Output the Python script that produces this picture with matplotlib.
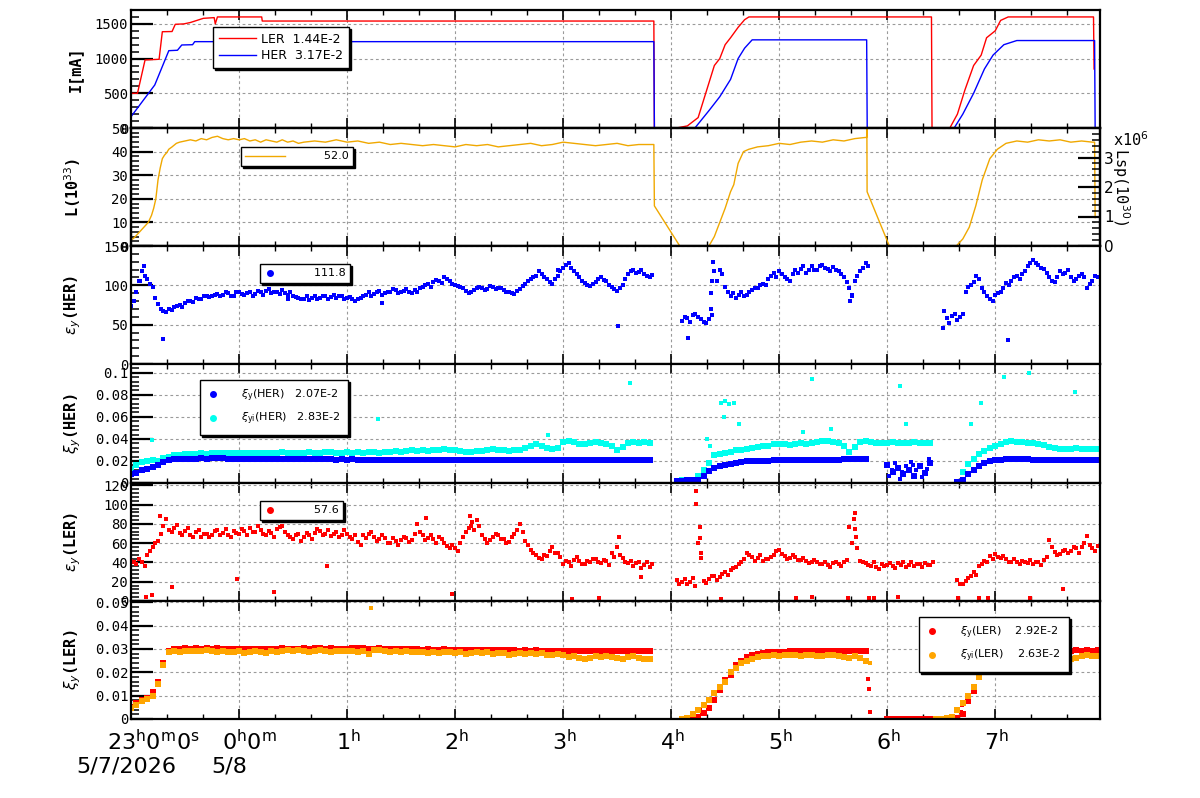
import numpy as np
import matplotlib
matplotlib.use('Agg')
import matplotlib.pyplot as plt
from matplotlib.lines import Line2D
from matplotlib.ticker import MultipleLocator, FixedLocator, FuncFormatter
import matplotlib.transforms as mtransforms

nan = np.nan

# ---------------- data (time in hours relative to 0:00 on 5/8) ----------------
t_grid = np.round(-1.0 + 0.05 * np.arange(180), 3)
t_grid_b = np.round(t_grid + 0.025, 3)

ler_I_t = [-1.00, -0.94, -0.87, -0.74, -0.71, -0.62, -0.59, -0.51, -0.45, -0.33, -0.23, -0.22, -0.20,
           0.21, 0.215, 3.84, 3.845, 4.05, 4.15, 4.25, 4.32, 4.40, 4.45, 4.50, 4.55, 4.62, 4.68, 4.72,
           6.41, 6.415, 6.58, 6.65, 6.72, 6.80, 6.87, 6.92, 7.00, 7.05, 7.12, 7.91, 7.915]
ler_I_v = [500, 500, 980, 990, 1387, 1390, 1494, 1500, 1520, 1580, 1590, 1500, 1600,
           1600, 1541, 1541, 0, 0, 30, 150, 500, 900, 1000, 1200, 1300, 1450, 1560, 1600,
           1600, 0, 0, 200, 550, 900, 1050, 1300, 1400, 1550, 1600, 1600, 850]
her_I_t = [-1.00, -0.78, -0.65, -0.57, -0.53, -0.43, -0.41, 3.84, 3.845, 4.22, 4.35, 4.45, 4.55,
           4.62, 4.68, 4.75, 5.81, 5.815, 6.62, 6.70, 6.80, 6.90, 6.98, 7.08, 7.20, 7.92, 7.925]
her_I_v = [163, 620, 1114, 1120, 1196, 1200, 1244, 1244, 0, 0, 250, 450, 700,
           1000, 1150, 1270, 1270, 0, 0, 200, 500, 850, 1050, 1200, 1260, 1260, 0]

lum_t = [-1.00, -0.97, -0.94, -0.90, -0.87, -0.84, -0.81, -0.79, -0.77, -0.75, -0.73, -0.71, -0.69,
         -0.67, -0.65, -0.62, -0.58, -0.55, -0.50, -0.45, -0.40, -0.35, -0.30, -0.25, -0.20, -0.15,
         -0.10, -0.05, 0.00, 0.05, 0.10, 0.15, 0.20, 0.25, 0.30, 0.35, 0.40, 0.45, 0.50, 0.55, 0.60,
         0.70, 0.80, 0.90, 1.00, 1.10, 1.20, 1.30, 1.40, 1.50, 1.60, 1.70, 1.80, 1.90, 2.00, 2.10,
         2.20, 2.30, 2.40, 2.50, 2.60, 2.70, 2.80, 2.90, 3.00, 3.10, 3.20, 3.30, 3.40, 3.50, 3.60,
         3.70, 3.80, 3.84, 3.845, 4.08, 4.35, 4.40, 4.45, 4.50, 4.55, 4.58, 4.62, 4.67, 4.72, 4.80,
         4.90, 5.00, 5.10, 5.20, 5.30, 5.40, 5.50, 5.60, 5.70, 5.80, 5.81, 5.812, 5.814, 6.02, 6.64,
         6.70, 6.76, 6.82, 6.88, 6.95, 7.02, 7.10, 7.20, 7.30, 7.40, 7.50, 7.60, 7.70, 7.80, 7.90,
         7.92, 7.925]
lum_v = [2.5, 3.5, 5, 7, 8.5, 10, 13, 16, 20, 28, 33, 37, 38.5,
         39.5, 41, 42, 43.5, 44, 44.5, 45, 44.5, 45.5, 45, 46, 46.5, 45.5,
         45, 45.5, 45, 45.5, 44.5, 45, 44, 45, 44.5, 44, 45, 44, 44.5, 43.5, 44,
         44.5, 44, 45, 44, 44.5, 43.5, 44, 43, 43.5, 43, 42.5, 43, 42.5, 42, 43,
         42.5, 43, 42, 42.5, 43, 43.5, 42.5, 43, 44, 43.5, 43, 42.5, 43, 43.5, 42.5,
         43, 43, 43, 17, 0, 0, 4, 10, 16, 23, 26, 35, 40, 41, 42,
         42.5, 43.5, 43, 44, 44.5, 44, 45, 44.5, 45.5, 46, 46, 50, 23, 0, 0,
         3, 8, 17, 28, 37, 41, 43.5, 44.5, 44, 45, 44.5, 45, 44, 44.5, 44,
         44, 12]

# vertical emittance HER, two interleaved readings of the point cloud
eps_her = [74, 92, 118, 108, 98, 76, 68, 70, 72, 75, 78, 80, 84, 83, 87, 86, 89, 88, 90, 87,
           91, 88, 92, 89, 91, 93, 90, 92, 94, 88, 86, 84, 83, 81, 86, 84, 87, 85, 84, 86,
           84, 83, 82, 86, 91, 89, 93, 90, 92, 94, 91, 95, 90, 92, 98, 102, 104, 106, 110, 105,
           101, 98, 93, 91, 96, 97, 95, 98, 96, 94, 92, 89, 95, 102, 108, 112, 115, 108, 102, 112,
           122, 128, 118, 110, 103, 99, 104, 110, 106, 98, 93, 100, 114, 119, 117, 115, 110, nan, nan, nan,
           nan, nan, 55, 58, 62, 60, 54, 57, 118, 120, 98, 86, 84, 91, 88, 94, 97, 102, 108, 116,
           118, 110, 106, 119, 121, 116, 124, 120, 126, 121, 123, 118, 110, 96, 105, 118, 129, nan, nan, nan,
           nan, nan, nan, nan, nan, nan, nan, nan, nan, nan, nan, 58, 61, 56, 63, 98, 104, 108, 92, 83,
           88, 91, 103, 106, 112, 114, 124, 132, 126, 121, 110, 104, 118, 116, 110, 108, 114, 97, 106, 110]
eps_her_b = [80, 105, 112, 102, 84, 70, 66, 69, 74, 73, 80, 79, 82, 86, 85, 88, 87, 91, 86, 92,
             89, 90, 87, 93, 88, 95, 91, 89, 90, 92, 85, 82, 86, 84, 82, 87, 83, 88, 86, 83,
             85, 80, 84, 88, 87, 92, 88, 91, 95, 90, 93, 92, 94, 96, 100, 98, 107, 103, 108, 102,
             99, 96, 90, 94, 98, 94, 99, 95, 97, 92, 90, 93, 99, 105, 110, 118, 110, 104, 108, 118,
             126, 122, 114, 106, 100, 102, 108, 107, 101, 95, 97, 108, 118, 116, 120, 112, 113, nan, nan, nan,
             nan, nan, 60, 53, 64, 57, 52, 62, 105, 115, 92, 90, 88, 87, 92, 96, 101, 100, 112, 110,
             114, 108, 115, 116, 124, 120, 119, 125, 122, 118, 120, 114, 104, 88, 112, 122, 124, nan, nan, nan,
             nan, nan, nan, nan, nan, nan, nan, nan, nan, nan, nan, 52, 64, 60, 92, 100, 112, 96, 86, 80,
             90, 97, 100, 110, 108, 118, 128, 128, 122, 116, 106, 110, 114, 120, 106, 112, 110, 102, 112, 104]
eps_her_out_t = [-0.92, -0.88, -0.70, 3.51, 4.16, 4.37, 4.37, 4.38, 4.39, 6.52, 6.53, 7.12, 5.66, 5.67,
                 2.95, 0.45, 1.32]
eps_her_out_v = [106, 125, 32, 48, 33, 70, 90, 105, 130, 46, 68, 30, 80, 86, 119, 82, 78]

xi_her = [0.0085, 0.0095, 0.0115, 0.0125, 0.0145, 0.0160, 0.0190, 0.0212, 0.0215, 0.0218,
          0.0220, 0.0222, 0.0222, 0.0225, 0.0222, 0.0224, 0.0226, 0.0225, 0.0222, 0.0220,
          0.0220, 0.0218, 0.0220, 0.0219, 0.0218, 0.0217, 0.0218, 0.0216, 0.0217, 0.0216,
          0.0215, 0.0216, 0.0215, 0.0214, 0.0215, 0.0214, 0.0215, 0.0214, 0.0213, 0.0214,
          0.0213, 0.0214, 0.0213, 0.0212, 0.0213, 0.0212, 0.0211, 0.0212, 0.0211, 0.0210,
          0.0211, 0.0210, 0.0209, 0.0208, 0.0207, 0.0206, 0.0207, 0.0206, 0.0207, 0.0206,
          0.0206, 0.0207, 0.0206, 0.0207, 0.0208, 0.0207, 0.0208, 0.0207, 0.0208, 0.0207,
          0.0208, 0.0209, 0.0208, 0.0209, 0.0208, 0.0209, 0.0210, 0.0209, 0.0210, 0.0209,
          0.0209, 0.0210, 0.0209, 0.0208, 0.0209, 0.0208, 0.0209, 0.0208, 0.0208, 0.0207,
          0.0208, 0.0207, 0.0208, 0.0207, 0.0208, 0.0207, 0.0207, nan, nan, nan,
          nan, 0.0015, 0.0020, 0.0025, 0.0025, 0.0030, 0.0060, 0.0110, 0.0140, 0.0155,
          0.0165, 0.0175, 0.0182, 0.0190, 0.0196, 0.0200, 0.0202, 0.0203, 0.0204, 0.0205,
          0.0206, 0.0207, 0.0208, 0.0208, 0.0209, 0.0210, 0.0210, 0.0211, 0.0212, 0.0212,
          0.0213, 0.0213, 0.0214, 0.0214, 0.0215, 0.0215, 0.0216, nan, nan, nan,
          0.0160, 0.0100, 0.0140, 0.0080, 0.0120, 0.0060, 0.0150, 0.0090, 0.0180, nan,
          nan, nan, nan, 0.0005, 0.0030, 0.0080, 0.0120, 0.0155, 0.0185, 0.0200,
          0.0208, 0.0212, 0.0214, 0.0215, 0.0215, 0.0214, 0.0214, 0.0213, 0.0213, 0.0212,
          0.0212, 0.0211, 0.0211, 0.0210, 0.0210, 0.0210, 0.0209, 0.0209, 0.0208, 0.0208]
xi_her_out_t = [6.02, 6.07, 6.12, 6.17, 6.22, 6.27, 6.32, 6.37, 6.39, 6.04, 6.14, 6.24, 6.34]
xi_her_out_v = [0.006, 0.018, 0.004, 0.015, 0.019, 0.012, 0.005, 0.013, 0.022, 0.012, 0.010, 0.016, 0.008]

xii_her = [0.0130, 0.0160, 0.0190, 0.0200, 0.0205, 0.0200, 0.0225, 0.0240, 0.0250, 0.0258,
           0.0262, 0.0265, 0.0262, 0.0268, 0.0265, 0.0270, 0.0268, 0.0272, 0.0270, 0.0268,
           0.0272, 0.0268, 0.0275, 0.0270, 0.0276, 0.0272, 0.0268, 0.0274, 0.0278, 0.0272,
           0.0270, 0.0276, 0.0272, 0.0280, 0.0276, 0.0272, 0.0278, 0.0282, 0.0276, 0.0274,
           0.0278, 0.0274, 0.0280, 0.0276, 0.0282, 0.0278, 0.0276, 0.0284, 0.0280, 0.0286,
           0.0282, 0.0290, 0.0296, 0.0292, 0.0298, 0.0294, 0.0300, 0.0304, 0.0308, 0.0300,
           0.0296, 0.0290, 0.0284, 0.0280, 0.0286, 0.0294, 0.0300, 0.0306, 0.0300, 0.0296,
           0.0292, 0.0298, 0.0304, 0.0320, 0.0340, 0.0356, 0.0340, 0.0320, 0.0305, 0.0320,
           0.0370, 0.0385, 0.0370, 0.0356, 0.0350, 0.0360, 0.0370, 0.0366, 0.0350, 0.0336,
           0.0300, 0.0330, 0.0365, 0.0370, 0.0362, 0.0368, 0.0365, nan, nan, nan,
           nan, 0.0020, 0.0025, 0.0030, 0.0030, 0.0060, 0.0120, 0.0180, 0.0250, 0.0266,
           0.0275, 0.0285, 0.0296, 0.0300, 0.0310, 0.0315, 0.0325, 0.0335, 0.0340, 0.0350,
           0.0356, 0.0350, 0.0345, 0.0356, 0.0360, 0.0356, 0.0365, 0.0375, 0.0385, 0.0378,
           0.0370, 0.0365, 0.0340, 0.0280, 0.0330, 0.0370, 0.0377, 0.0372, 0.0366, 0.0362,
           0.0365, 0.0368, 0.0362, 0.0366, 0.0364, 0.0368, 0.0362, 0.0366, 0.0364, nan,
           nan, nan, nan, 0.0005, 0.0100, 0.0170, 0.0220, 0.0260, 0.0290, 0.0320,
           0.0340, 0.0350, 0.0370, 0.0385, 0.0375, 0.0370, 0.0365, 0.0360, 0.0356, 0.0345,
           0.0330, 0.0318, 0.0310, 0.0305, 0.0310, 0.0315, 0.0310, 0.0305, 0.0308, 0.0305]
xii_her_out_t = [-0.81, 0.30, 0.88, 1.29, 2.86, 3.62, 4.46, 4.50, 4.54, 4.58, 4.49, 4.63, 5.30, 5.22,
                 5.48, 6.12, 6.17, 6.87, 6.78, 7.08, 7.31, 7.74, 4.33, 4.36]
xii_her_out_v = [0.0386, 0.070, 0.0596, 0.058, 0.0437, 0.091, 0.073, 0.074, 0.072, 0.073, 0.0596, 0.0536,
                 0.094, 0.046, 0.049, 0.088, 0.0536, 0.073, 0.0536, 0.096, 0.100, 0.0827, 0.040, 0.034]

# vertical emittance LER, two interleaved readings of the point cloud
eps_ler = [42, 38, 41, 48, 56, 62, 78, 74, 76, 71, 73, 69, 72, 66, 70, 68, 74, 71, 69, 73,
           70, 73, 76, 72, 74, 69, 71, 75, 78, 68, 64, 70, 66, 68, 71, 73, 70, 67, 72, 69,
           70, 64, 61, 68, 70, 66, 64, 65, 60, 62, 63, 65, 63, 80, 68, 65, 64, 66, 60, 55,
           55, 60, 72, 78, 84, 68, 60, 66, 68, 64, 61, 70, 80, 62, 53, 48, 44, 47, 56, 50,
           38, 40, 43, 42, 38, 41, 44, 39, 42, 50, 56, 45, 39, 36, 40, 37, 35, nan, nan, nan,
           nan, 22, 20, 18, 24, 60, 21, 23, 26, 25, 30, 32, 35, 40, 50, 46, 45, 42, 44, 48,
           53, 47, 45, 46, 43, 42, 40, 41, 38, 37, 39, 38, 40, 77, 91, 42, 39, 36, 35, 38,
           37, 36, 39, 40, 37, 36, 38, 39, 37, nan, nan, nan, nan, 22, 18, 24, 30, 36, 42, 47,
           49, 45, 44, 41, 40, 42, 39, 38, 41, 43, 63, 51, 49, 53, 52, 55, 56, 67, 55, 57]
eps_ler_b = [40, 44, 36, 52, 60, 70, 85, 72, 79, 68, 76, 66, 74, 70, 66, 73, 69, 75, 66, 71,
             75, 68, 72, 78, 70, 73, 66, 77, 72, 66, 68, 62, 71, 64, 75, 69, 74, 70, 66, 74,
             66, 68, 58, 65, 72, 62, 68, 60, 65, 58, 66, 61, 70, 72, 63, 68, 60, 64, 57, 58,
             52, 66, 76, 74, 78, 64, 63, 70, 64, 60, 66, 74, 72, 58, 50, 45, 48, 52, 50, 46,
             42, 36, 46, 38, 42, 44, 40, 43, 37, 46, 48, 40, 42, 39, 34, 41, 38, nan, nan, nan,
             nan, 18, 23, 20, 16, 45, 19, 26, 22, 28, 27, 34, 38, 44, 48, 42, 48, 44, 46, 52,
             49, 44, 48, 43, 45, 39, 43, 38, 40, 35, 41, 36, 43, 60, 55, 40, 37, 40, 33, 36,
             39, 34, 37, 35, 40, 38, 35, 37, 40, nan, nan, nan, nan, 18, 21, 26, 27, 38, 40, 44,
             46, 47, 40, 44, 38, 41, 43, 40, 37, 46, 56, 48, 52, 50, 56, 50, 60, 58, 52, 54]
eps_ler_out_t = [-0.86, -0.81, -0.62, -0.02, 0.32, 0.81, 1.97, 3.08, 3.33, 3.72, 4.46, 5.16, 5.30, 5.64,
                 5.83, 5.88, 6.10, 6.66, 6.85, 6.93, 7.32, 7.63, 4.23, 4.23, 4.27, 4.27, 4.28, 5.69,
                 5.70, 5.71, 2.14, 2.16, -0.73, 1.73, 3.52]
eps_ler_out_v = [4, 6, 15, 23, 9, 36, 7, 2.5, 3.5, 25, 2.5, 3.5, 4.5, 3.5,
                 3.5, 3.5, 4.5, 3.5, 3.5, 3.5, 3.5, 12, 114, 101, 77, 65, 50, 85,
                 75, 66, 88, 82, 88, 86, 66]

xi_ler = [0.0050, 0.0070, 0.0080, 0.0090, 0.0115, 0.0160, 0.0240, 0.0290, 0.0298, 0.0300,
          0.0302, 0.0300, 0.0303, 0.0301, 0.0303, 0.0300, 0.0302, 0.0300, 0.0301, 0.0300,
          0.0300, 0.0299, 0.0300, 0.0298, 0.0300, 0.0301, 0.0299, 0.0300, 0.0302, 0.0300,
          0.0301, 0.0300, 0.0302, 0.0301, 0.0303, 0.0302, 0.0300, 0.0302, 0.0301, 0.0300,
          0.0300, 0.0302, 0.0303, 0.0302, 0.0300, 0.0301, 0.0302, 0.0300, 0.0299, 0.0300,
          0.0298, 0.0299, 0.0300, 0.0298, 0.0297, 0.0298, 0.0296, 0.0297, 0.0298, 0.0297,
          0.0296, 0.0297, 0.0296, 0.0295, 0.0296, 0.0295, 0.0296, 0.0294, 0.0295, 0.0294,
          0.0295, 0.0294, 0.0293, 0.0294, 0.0293, 0.0294, 0.0293, 0.0292, 0.0293, 0.0292,
          0.0293, 0.0292, 0.0293, 0.0292, 0.0291, 0.0292, 0.0291, 0.0292, 0.0291, 0.0290,
          0.0291, 0.0290, 0.0291, 0.0290, 0.0290, 0.0291, 0.0290, nan, nan, nan,
          nan, nan, nan, nan, 0.0005, 0.0010, 0.0025, 0.0045, 0.0080, 0.0125,
          0.0165, 0.0190, 0.0230, 0.0250, 0.0265, 0.0275, 0.0280, 0.0283, 0.0285, 0.0286,
          0.0287, 0.0288, 0.0289, 0.0289, 0.0290, 0.0290, 0.0291, 0.0291, 0.0292, 0.0292,
          0.0293, 0.0292, 0.0293, 0.0293, 0.0292, 0.0293, 0.0292, nan, nan, nan,
          0.0001, 0.0001, 0.0001, 0.0001, 0.0001, 0.0001, 0.0001, 0.0001, 0.0001, nan,
          nan, nan, nan, 0.0005, 0.0020, 0.0075, 0.0120, 0.0190, 0.0250, 0.0275,
          0.0290, 0.0295, 0.0294, 0.0296, 0.0295, 0.0294, 0.0295, 0.0294, 0.0293, 0.0294,
          0.0293, 0.0294, 0.0292, 0.0294, 0.0293, 0.0294, 0.0293, 0.0294, 0.0293, 0.0294]
xi_ler_out_t = [5.82, 5.83, 5.84, 4.27, 4.29, 6.68, 6.69]
xi_ler_out_v = [0.017, 0.013, 0.003, 0.004, 0.002, 0.003, 0.006]

xii_ler = [0.0045, 0.0060, 0.0075, 0.0085, 0.0100, 0.0150, 0.0230, 0.0285, 0.0290, 0.0288,
           0.0292, 0.0290, 0.0293, 0.0289, 0.0294, 0.0290, 0.0286, 0.0290, 0.0288, 0.0285,
           0.0290, 0.0284, 0.0287, 0.0292, 0.0288, 0.0284, 0.0289, 0.0286, 0.0290, 0.0294,
           0.0290, 0.0295, 0.0290, 0.0288, 0.0292, 0.0294, 0.0290, 0.0288, 0.0292, 0.0291,
           0.0290, 0.0292, 0.0288, 0.0293, 0.0280, 0.0294, 0.0296, 0.0290, 0.0288, 0.0291,
           0.0286, 0.0290, 0.0288, 0.0285, 0.0287, 0.0283, 0.0286, 0.0284, 0.0288, 0.0285,
           0.0283, 0.0286, 0.0280, 0.0284, 0.0287, 0.0282, 0.0285, 0.0279, 0.0284, 0.0281,
           0.0276, 0.0280, 0.0283, 0.0278, 0.0282, 0.0279, 0.0283, 0.0276, 0.0272, 0.0278,
           0.0273, 0.0266, 0.0270, 0.0262, 0.0255, 0.0262, 0.0268, 0.0264, 0.0270, 0.0266,
           0.0262, 0.0256, 0.0265, 0.0270, 0.0260, 0.0255, 0.0258, nan, nan, nan,
           nan, nan, 0.0002, 0.0005, 0.0020, 0.0040, 0.0060, 0.0080, 0.0110, 0.0135,
           0.0160, 0.0200, 0.0220, 0.0240, 0.0250, 0.0258, 0.0265, 0.0268, 0.0270, 0.0272,
           0.0270, 0.0274, 0.0272, 0.0275, 0.0270, 0.0273, 0.0276, 0.0271, 0.0268, 0.0272,
           0.0275, 0.0270, 0.0265, 0.0262, 0.0270, 0.0260, 0.0250, nan, nan, nan,
           nan, nan, nan, nan, nan, nan, nan, nan, nan, 0.0001,
           0.0001, 0.0003, 0.0010, 0.0040, 0.0070, 0.0100, 0.0135, 0.0180, 0.0215, 0.0235,
           0.0245, 0.0248, 0.0250, 0.0252, 0.0250, 0.0248, 0.0246, 0.0244, 0.0250, 0.0256,
           0.0262, 0.0267, 0.0264, 0.0258, 0.0255, 0.0260, 0.0268, 0.0275, 0.0270, 0.0268]
xii_ler_out_t = [1.22, 5.84]
xii_ler_out_v = [0.0475, 0.024]

hour_ticks = [-1, 0, 1, 2, 3, 4, 5, 6, 7]
hour_labels = [r'$23^{\rm h}0^{\rm m}0^{\rm s}$', r'$0^{\rm h}0^{\rm m}$', r'$1^{\rm h}$', r'$2^{\rm h}$',
               r'$3^{\rm h}$', r'$4^{\rm h}$', r'$5^{\rm h}$', r'$6^{\rm h}$', r'$7^{\rm h}$']
date_labels = ['5/7/2026', '5/8']

# ---------------- figure ----------------
W, H = 1200, 798
fig = plt.figure(figsize=(W / 100, H / 100), dpi=100)
L0, R0 = 131, 1100
tops = [10, 128, 246, 364, 483, 601, 719]
MONO = 'DejaVu Sans Mono'

RED, BLUE, CYAN, ORANGE, GOLD = '#ff0000', '#0000ff', '#00ffee', '#ffa500', '#f0a800'


def fmt(v, p):
    return f'{v:g}'


def make_ax(i, ylim, major, minor):
    ax = fig.add_axes([L0 / W, 1 - tops[i + 1] / H, (R0 - L0) / W, (tops[i + 1] - tops[i]) / H])
    ax.set_xlim(-1.0, 7.97)
    ax.set_ylim(*ylim)
    ax.xaxis.set_major_locator(FixedLocator(hour_ticks))
    ax.xaxis.set_minor_locator(MultipleLocator(1 / 3))
    ax.yaxis.set_major_locator(MultipleLocator(major))
    ax.yaxis.set_minor_locator(MultipleLocator(minor))
    ax.yaxis.set_major_formatter(FuncFormatter(fmt))
    ax.tick_params(axis='x', which='both', direction='in', top=True, bottom=True, labelbottom=False)
    ax.tick_params(axis='x', which='major', length=7, width=1.2)
    ax.tick_params(axis='x', which='minor', length=3.5, width=1.0)
    ax.tick_params(axis='y', which='both', direction='in', left=True, right=False)
    ax.tick_params(axis='y', which='major', length=16, width=1.6, labelsize=10, pad=2,
                   labelfontfamily=MONO)
    ax.tick_params(axis='y', which='minor', length=5.5, width=1.1)
    ax.grid(True, which='major', color='#9a9a9a', ls=(0, (2.5, 2.5)), lw=0.8)
    ax.set_axisbelow(True)
    for s in ax.spines.values():
        s.set_linewidth(1.6)
    ax.yaxis.set_label_coords(-0.05, 0.5)
    return ax


def add_legend(ax, handles, labels, left_px, top_px, **kw):
    opts = dict(loc='upper left', bbox_to_anchor=(left_px / W, 1 - top_px / H),
                bbox_transform=fig.transFigure, fontsize=8, frameon=True, fancybox=False,
                edgecolor='black', framealpha=1, borderaxespad=0,
                shadow={'ox': 1.3, 'oy': -1.3, 'shade': 1.0, 'alpha': 1})
    opts.update(kw)
    leg = ax.legend(handles, labels, **opts)
    leg.get_frame().set_linewidth(1.0)
    leg.set_zorder(10)
    return leg


def scatter(ax, t, v, color, ms):
    ax.plot(t, v, ls='none', marker='s', ms=ms, mew=0, color=color)


ylab = dict(fontsize=11, fontweight='bold', family=MONO)
ms_sc = 3.2
ms_band = 4.3

# Panel 1: currents
ax1 = make_ax(0, (0, 1700), 500, 100)
ax1.plot(ler_I_t, ler_I_v, color=RED, lw=1.0)
ax1.plot(her_I_t, her_I_v, color=BLUE, lw=1.0)
ax1.set_ylabel('I[mA]', **ylab)
add_legend(ax1, [Line2D([], [], color=RED, lw=1), Line2D([], [], color=BLUE, lw=1)],
           ['LER  1.44E-2', 'HER  3.17E-2'], 213, 27, fontsize=9,
           handlelength=3.0, handletextpad=0.4, borderpad=0.45, labelspacing=0.3)

# Panel 2: luminosity
ax2 = make_ax(1, (0, 50), 10, 2)
ax2.plot(lum_t, lum_v, color=GOLD, lw=1.0)
ax2.set_ylabel('L(10$^{33}$)', **ylab)
add_legend(ax2, [Line2D([], [], color=GOLD, lw=1)], ['          52.0'], 241, 147,
           handlelength=3.6, handletextpad=0.3, borderpad=0.4)
ax2r = ax2.twinx()
ax2r.set_ylim(0, 4)
ax2r.yaxis.set_major_locator(FixedLocator([0, 1, 2, 3]))
ax2r.yaxis.set_minor_locator(MultipleLocator(0.2))
ax2r.yaxis.set_major_formatter(FuncFormatter(fmt))
ax2r.tick_params(axis='y', which='both', direction='in', right=True, left=False)
ax2r.tick_params(axis='y', which='major', length=16, width=1.6, labelsize=11, pad=3)
ax2r.tick_params(axis='y', which='minor', length=5.5, width=1.1)
for s in ax2r.spines.values():
    s.set_linewidth(1.6)
fig.text(1121 / W, 1 - 187 / H, 'Lsp(10$^{30}$)', rotation=270, ha='center', va='center',
         fontsize=11, family=MONO)
fig.text(1113 / W, 1 - 140 / H, 'x10$^{6}$', ha='left', va='center', fontsize=11, family=MONO)

# Panel 3: emittance HER
ax3 = make_ax(2, (0, 150), 50, 10)
scatter(ax3, t_grid, eps_her, BLUE, ms_sc)
scatter(ax3, t_grid_b, eps_her_b, BLUE, ms_sc)
scatter(ax3, eps_her_out_t, eps_her_out_v, BLUE, ms_sc)
ax3.set_ylabel(r'$\varepsilon_y$(HER)', **ylab)
add_legend(ax3, [Line2D([], [], color=BLUE, ls='none', marker='o', ms=4)], ['          111.8'], 260, 264,
           handlelength=1.0, handletextpad=0.3, borderpad=0.4)

# Panel 4: beam-beam HER
ax4 = make_ax(3, (0, 0.108), 0.02, 0.004)
scatter(ax4, t_grid, xii_her, CYAN, ms_band)
scatter(ax4, xii_her_out_t, xii_her_out_v, CYAN, ms_sc)
scatter(ax4, t_grid, xi_her, BLUE, ms_band)
scatter(ax4, xi_her_out_t, xi_her_out_v, BLUE, ms_sc)
ax4.set_ylabel(r'$\xi_y$(HER)', **ylab)
add_legend(ax4, [Line2D([], [], color=BLUE, ls='none', marker='o', ms=4),
                 Line2D([], [], color=CYAN, ls='none', marker='o', ms=4)],
           [r'$\xi_{\rm y}$(HER)   2.07E-2', r'$\xi_{\rm yi}$(HER)   2.83E-2'], 200, 380,
           handlelength=1.0, handletextpad=2.0, borderpad=0.7, labelspacing=0.6)

# Panel 5: emittance LER
ax5 = make_ax(4, (0, 122.5), 20, 4)
scatter(ax5, t_grid, eps_ler, RED, ms_sc)
scatter(ax5, t_grid_b, eps_ler_b, RED, ms_sc)
scatter(ax5, eps_ler_out_t, eps_ler_out_v, RED, ms_sc)
ax5.set_ylabel(r'$\varepsilon_y$(LER)', **ylab)
add_legend(ax5, [Line2D([], [], color=RED, ls='none', marker='o', ms=4)], ['          57.6'], 260, 501,
           handlelength=1.0, handletextpad=0.3, borderpad=0.4)

# Panel 6: beam-beam LER
ax6 = make_ax(5, (0, 0.0505), 0.01, 0.002)
scatter(ax6, t_grid, xi_ler, RED, ms_band)
scatter(ax6, xi_ler_out_t, xi_ler_out_v, RED, ms_sc)
scatter(ax6, t_grid, xii_ler, ORANGE, ms_band)
scatter(ax6, xii_ler_out_t, xii_ler_out_v, ORANGE, ms_sc)
ax6.set_ylabel(r'$\xi_y$(LER)', **ylab)
add_legend(ax6, [Line2D([], [], color=RED, ls='none', marker='o', ms=4),
                 Line2D([], [], color=ORANGE, ls='none', marker='o', ms=4)],
           [r'$\xi_{\rm y}$(LER)    2.92E-2', r'$\xi_{\rm yi}$(LER)    2.63E-2'], 919, 617,
           handlelength=1.0, handletextpad=2.0, borderpad=0.7, labelspacing=0.6)

# time labels below the bottom panel
trans = mtransforms.blended_transform_factory(ax6.transData, ax6.transAxes)
label_shift = [22, 10] + [1] * 7
for h, lab, dx in zip(hour_ticks, hour_labels, label_shift):
    off = mtransforms.ScaledTranslation(dx / 100, 0, fig.dpi_scale_trans)
    ax6.text(h, -23 / 118, lab, transform=trans + off, ha='center', va='center', fontsize=16)
for h, lab, dx in zip(hour_ticks[:2], date_labels, [-5, -10]):
    off = mtransforms.ScaledTranslation(dx / 100, 0, fig.dpi_scale_trans)
    ax6.text(h, -48 / 118, lab, transform=trans + off, ha='center', va='center', fontsize=16)

fig.savefig('out.png', dpi=100)
